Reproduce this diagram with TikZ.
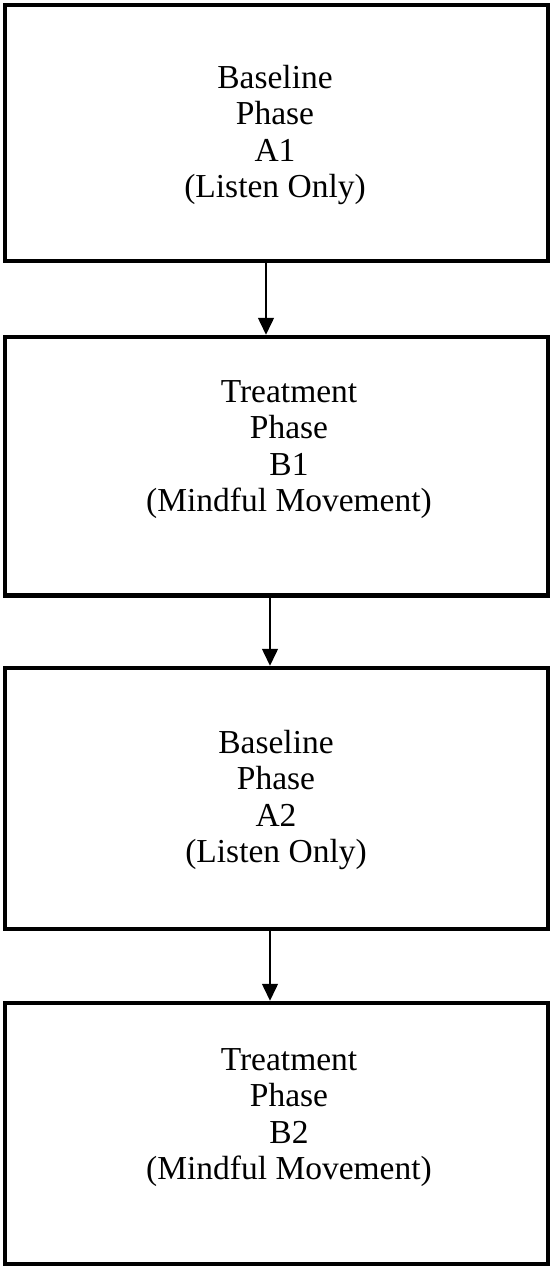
\documentclass[tikz,border=0pt]{standalone}
\usepackage{fontspec}
\setmainfont{Liberation Serif}
\usetikzlibrary{arrows.meta}
\tikzset{
  phasebox/.style={draw=black, line width=4.5pt, rectangle, minimum width=543pt, inner sep=0pt, fill=none},
  phasetext/.style={anchor=base, inner sep=0pt, font=\fontsize{33.5}{36.3}\selectfont},
  flow/.style={draw=black, line width=1.5pt, -{Triangle[width=16pt,length=17pt]}}
}
\newcommand{\ptxt}[1]{\begin{tabular}[t]{@{}c@{}}#1\end{tabular}}
\begin{document}
\begin{tikzpicture}[x=1pt,y=-1pt]
\useasboundingbox (0,0) rectangle (551,1268);
\node[phasebox, minimum height=256pt] (b1) at (276.5,133) {};
\node[phasebox, minimum height=258.5pt] (b2) at (276.5,466.25) {};
\node[phasebox, minimum height=261pt] (b3) at (276.5,798.5) {};
\node[phasebox, minimum height=261pt] (b4) at (276.5,1133.5) {};
\node[phasetext] (t1) at (275,88.5) {\ptxt{Baseline\\Phase\\A1\\(Listen Only)}};
\node[phasetext] (t2) at (289,402.5) {\ptxt{Treatment\\Phase\\B1\\(Mindful Movement)}};
\node[phasetext] (t3) at (276,753.5) {\ptxt{Baseline\\Phase\\A2\\(Listen Only)}};
\node[phasetext] (t4) at (289,1070.5) {\ptxt{Treatment\\Phase\\B2\\(Mindful Movement)}};
\coordinate (x1) at (266,0);
\coordinate (x2) at (270,0);
\draw[flow] (b1.south -| x1) -- (b2.north -| x1);
\draw[flow] (b2.south -| x2) -- (b3.north -| x2);
\draw[flow] (b3.south -| x2) -- (b4.north -| x2);
\end{tikzpicture}
\end{document}
